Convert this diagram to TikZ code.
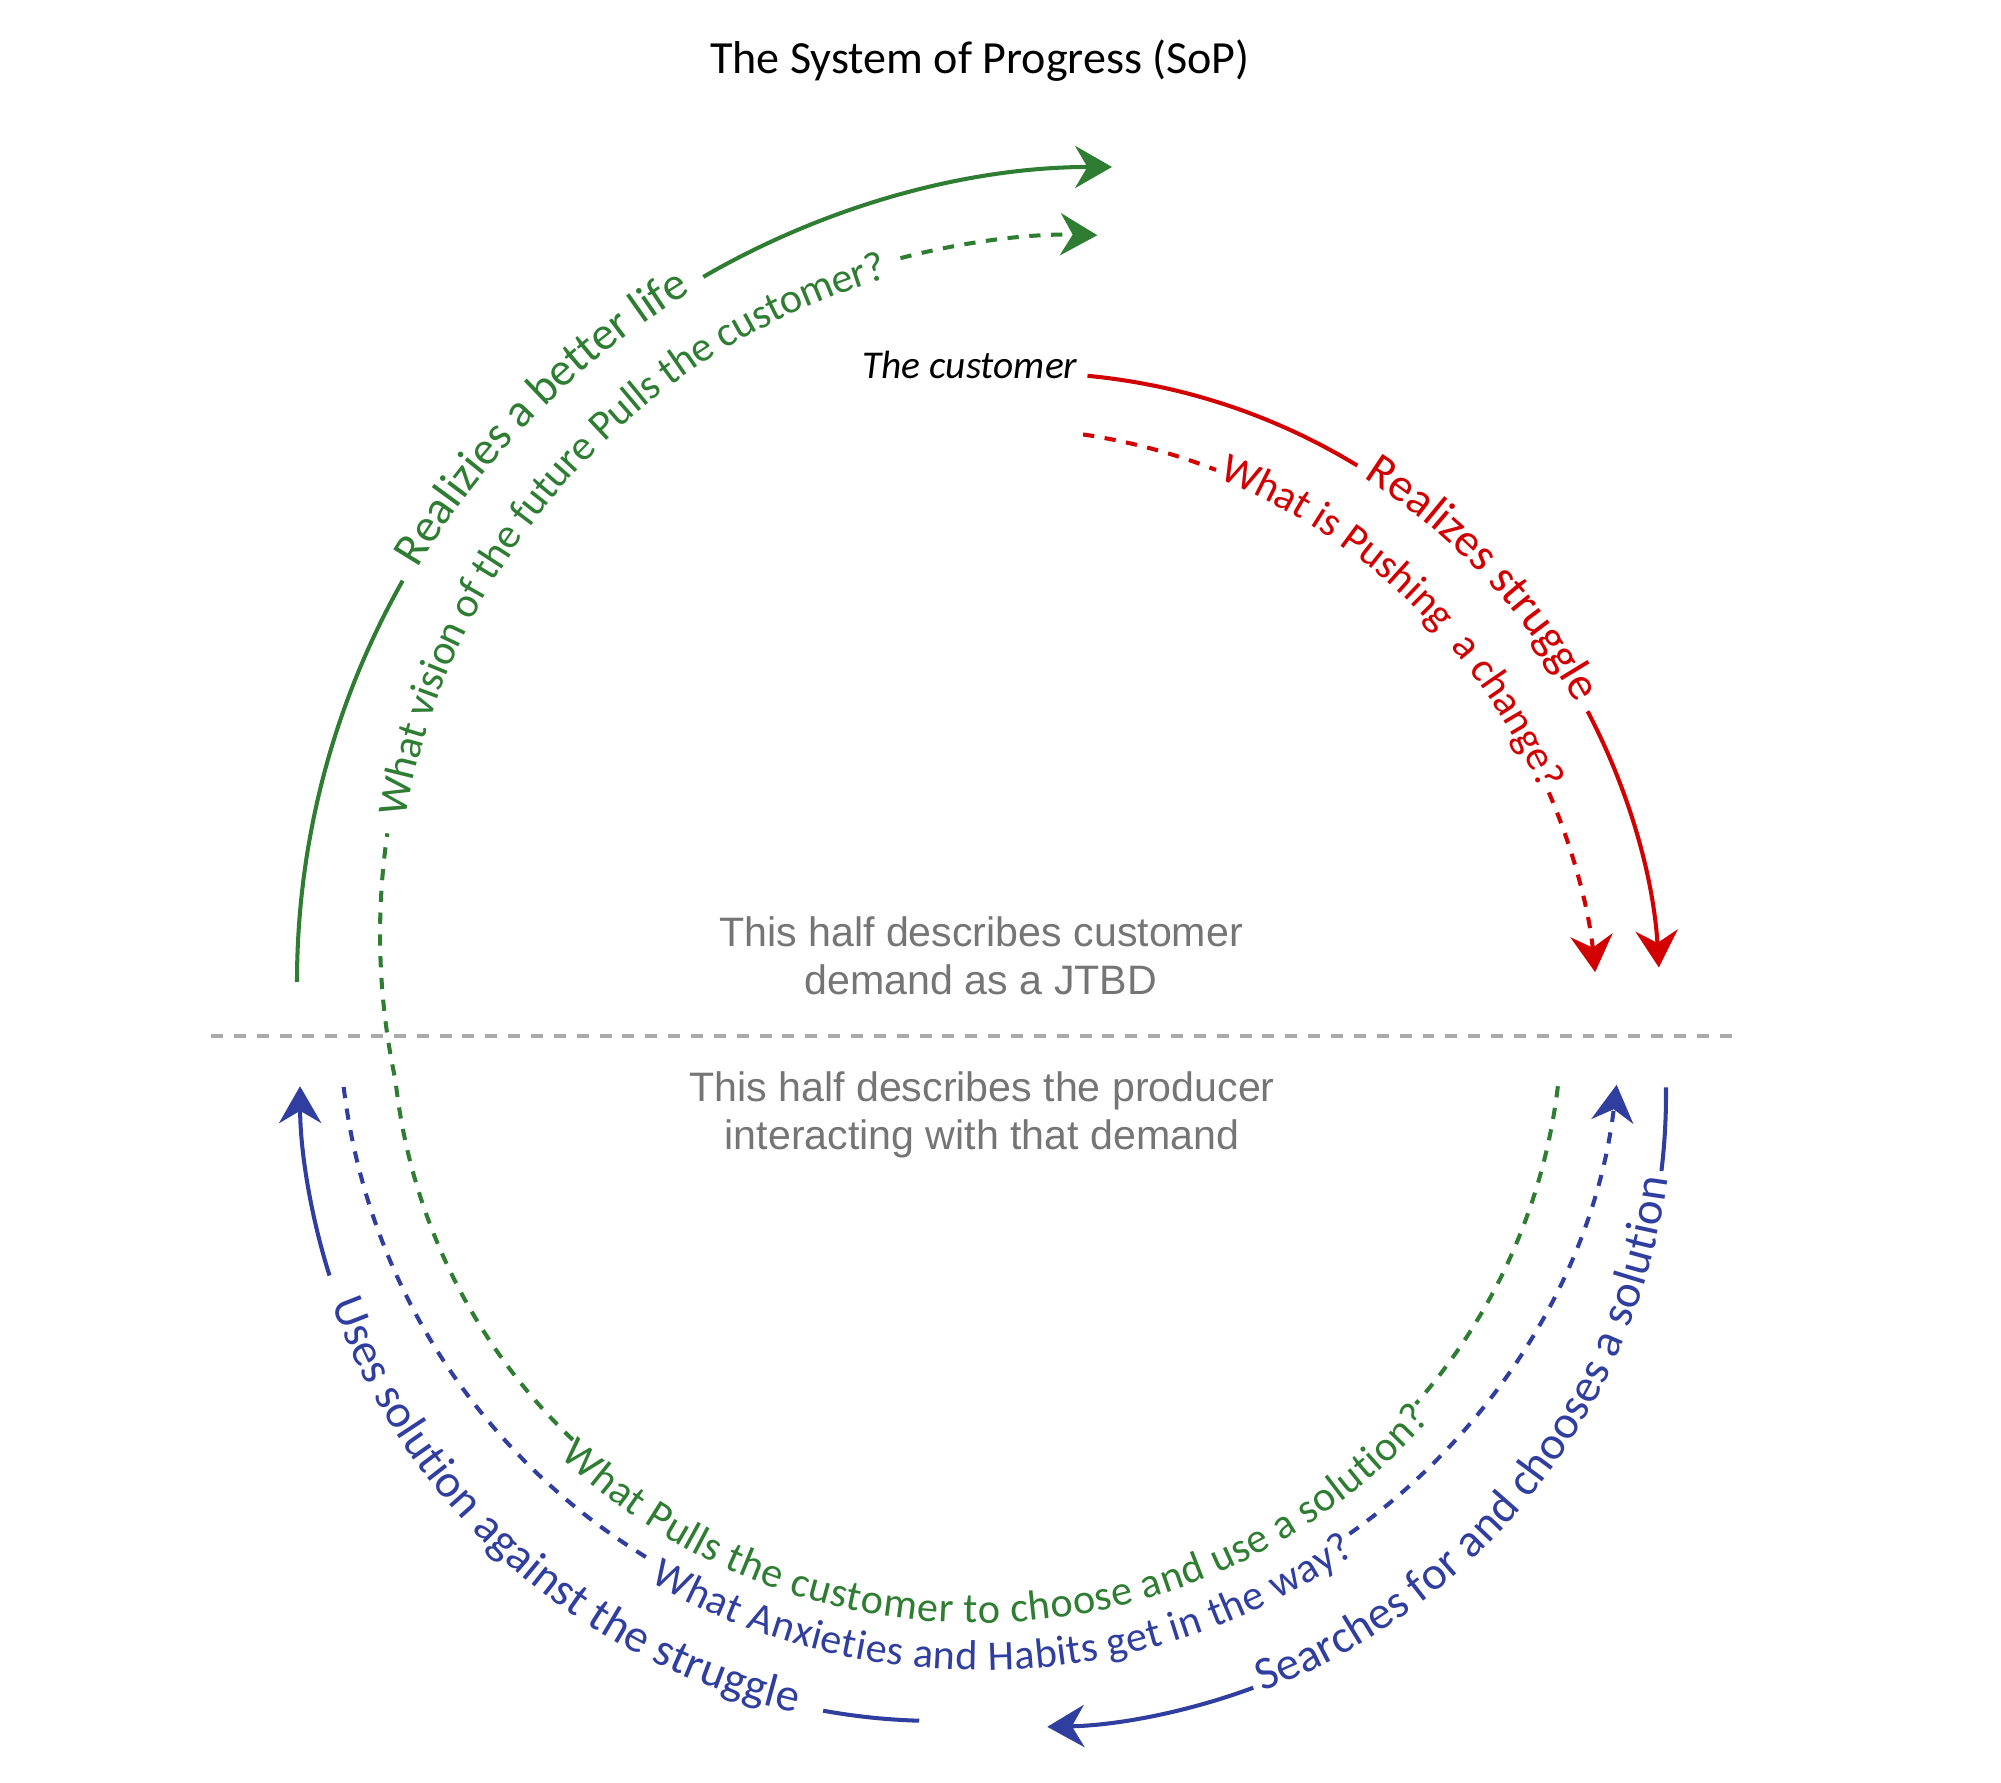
\documentclass[tikz,border=0pt]{standalone}
\usepackage{fontspec}
\setmainfont{Carlito}
\newfontfamily\sopNoteFont{Liberation Sans}
\usetikzlibrary{arrows.meta,decorations.text}
\definecolor{sopGreen}{RGB}{46,125,50}
\definecolor{sopRed}{RGB}{210,0,0}
\definecolor{sopBlue}{RGB}{48,63,159}
\definecolor{sopGrayText}{RGB}{117,117,117}
\definecolor{sopGrayRule}{RGB}{170,170,170}
\tikzset{
  soptitle/.style={font=\fontsize{13.1}{15}\selectfont,text=black,inner sep=0pt},
  sopwho/.style={font=\itshape\fontsize{11.2}{13}\selectfont,text=black,inner sep=0pt},
  sopnote/.style={font=\sopNoteFont\fontsize{11.7}{13.7}\selectfont,text=sopGrayText,align=center,inner sep=0pt},
  sopsolid/.style={line width=1.15pt},
  sopdash/.style={line width=1.15pt,dash pattern=on 3.2pt off 3pt},
  soptip/.style={-{Stealth[length=10.5pt,width=12pt,inset=3.5pt]}},
  sopmid/.style={draw=sopGrayRule,line width=1.1pt,dash pattern=on 3.4pt off 3.1pt},
}
\newcommand{\SopBig}{\fontsize{13.3}{15}\selectfont}
\newcommand{\SopSmall}{\fontsize{12}{14}\selectfont}
\newcommand{\ArcLabel}[7][-2pt]{% [raise], centre, radius, from, to, format, text
  \path[decorate,decoration={text along path,text align=center,raise=#1,
    text={|#6|#7}}]
    ([shift={(#4:#3)}]#2) arc[start angle=#4,end angle=#5,radius=#3];%
}

\begin{document}
\begin{tikzpicture}[x=0.01cm,y=0.01cm]
\useasboundingbox (0,0) rectangle (2001,1783);

% Centres of the arcs
\coordinate (gsC) at (1112,801);
\coordinate (rsC) at (1028,778);
\coordinate (rdC) at (995,752);
\coordinate (gdlC) at (977,766);
\coordinate (gduC) at (1079,849);
\coordinate (bdC) at (980,773);
\coordinate (bslC) at (937,699);
\coordinate (bsrC) at (1034,688);

\node[soptitle,anchor=base] (title) at (980,1709) {The System of Progress (SoP)};
\node[sopwho,anchor=base east] (cust) at (1078,1404) {The customer};
\node[sopnote] (demand) at (981,827) {This half describes customer\\demand as a JTBD};
\node[sopnote] (producer) at (982,668) {This half describes the producer\\interacting with that demand};

% Dividing rule between the two halves
\coordinate (ruleW) at (211,747);
\coordinate (ruleE) at (1738,747);
\draw[sopmid] (ruleW) -- (ruleE);

% Upper half: customer demand
\coordinate (gsFoot) at ([shift={(180:815)}]gsC);
\coordinate (gsTop) at ([shift={(120.1:815)}]gsC);
\draw[sopsolid,sopGreen] (gsFoot) arc[start angle=180,end angle=150.5,radius=815];
\draw[sopsolid,sopGreen,soptip] (gsTop) arc[start angle=120.1,end angle=90,radius=815];
\ArcLabel{gsC}{815}{160}{110.6}{\SopBig\color{sopGreen}}{Realizies a better life}

\coordinate (rsStart) at ([shift={(84.6:632)}]rsC);
\coordinate (rsLow) at ([shift={(27.7:632)}]rsC);
\draw[sopsolid,sopRed] (rsStart) arc[start angle=84.6,end angle=58.6,radius=632];
\draw[sopsolid,sopRed,soptip] (rsLow) arc[start angle=27.7,end angle=3.4,radius=632];
\ArcLabel{rsC}{632}{68}{18.3}{\SopBig\color{sopRed}}{Realizes struggle}

\coordinate (rdStart) at ([shift={(81.6:603)}]rdC);
\coordinate (rdLow) at ([shift={(23.3:603)}]rdC);
\draw[sopdash,sopRed] (rdStart) arc[start angle=81.6,end angle=68.5,radius=603];
\draw[sopdash,sopRed,soptip] (rdLow) arc[start angle=23.3,end angle=5.6,radius=603];
\ArcLabel{rdC}{603}{75}{16.8}{\SopSmall\color{sopRed}}{What is Pushing{\ \ }a change?}

% Green dashed loop: lower arc joins the upper arc on the left
\coordinate (gdRight) at ([shift={(353.2:585)}]gdlC);
\coordinate (gdLeft) at ([shift={(226.3:585)}]gdlC);
\coordinate (gdTop) at ([shift={(104.8:699)}]gduC);
\draw[sopdash,sopGreen] (gdRight) arc[start angle=353.2,end angle=318.6,radius=585];
\draw[sopdash,sopGreen] (gdLeft) arc[start angle=226.3,end angle=186.2,radius=585]
  arc[start angle=192.05,end angle=171.7,radius=699];
\draw[sopdash,sopGreen,soptip] (gdTop) arc[start angle=104.8,end angle=88.5,radius=699];
\ArcLabel[-4.5pt]{gduC}{699}{180}{96.5}{\SopSmall\color{sopGreen}}{What vision of the future Pulls the customer?}
\ArcLabel[-6pt]{gdlC}{585}{222}{322.9}{\SopSmall\color{sopGreen}}{What Pulls the customer to choose and use a solution?}

% Lower half: producer
\coordinate (bdStart) at ([shift={(186.9:641)}]bdC);
\coordinate (bdRight) at ([shift={(305.2:641)}]bdC);
\draw[sopdash,sopBlue] (bdStart) arc[start angle=186.9,end angle=239.4,radius=641];
\draw[sopdash,sopBlue,soptip] (bdRight) arc[start angle=305.2,end angle=353.3,radius=641];
\ArcLabel[-5.5pt]{bdC}{641}{225}{319.6}{\SopSmall\color{sopBlue}}{What Anxieties and Habits get in the way?}

\coordinate (bslFoot) at ([shift={(268.4:637)}]bslC);
\coordinate (bslSide) at ([shift={(197.5:637)}]bslC);
\draw[sopsolid,sopBlue] (bslFoot) arc[start angle=268.4,end angle=259.7,radius=637];
\draw[sopsolid,sopBlue,soptip] (bslSide) arc[start angle=197.5,end angle=180.2,radius=637];
\ArcLabel{bslC}{637}{190}{267.2}{\SopBig\color{sopBlue}}{Uses solution against the struggle}

\coordinate (bsrTop) at ([shift={(0.7:632)}]bsrC);
\coordinate (bsrLow) at ([shift={(-69.7:632)}]bsrC);
\draw[sopsolid,sopBlue] (bsrTop) arc[start angle=0.7,end angle=-6.9,radius=632];
\draw[sopsolid,sopBlue,soptip] (bsrLow) arc[start angle=-69.7,end angle=-88.8,radius=632];
\ArcLabel{bsrC}{632}{-78}{1.4}{\SopBig\color{sopBlue}}{Searches for and chooses a solution}
\end{tikzpicture}
\end{document}
